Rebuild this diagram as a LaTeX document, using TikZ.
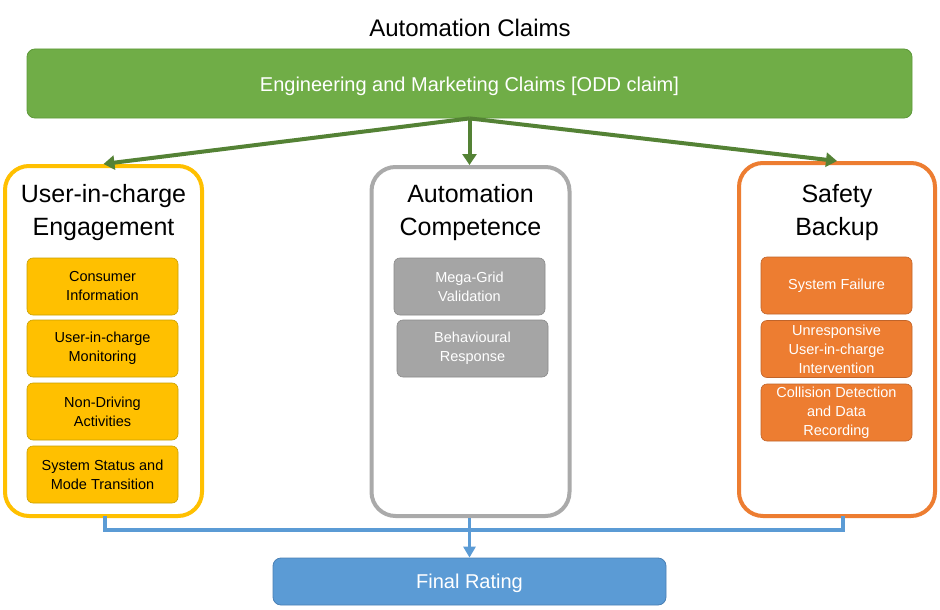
\documentclass[tikz,border=0pt]{standalone}
\usepackage{fontspec}
\setmainfont{Liberation Sans}
\usetikzlibrary{arrows.meta}
\definecolor{cgreen}{HTML}{70AD47}
\definecolor{cgreenb}{HTML}{5E9A3A}
\definecolor{carrow}{HTML}{548235}
\definecolor{cyellow}{HTML}{FFC000}
\definecolor{cyellowb}{HTML}{C9A000}
\definecolor{cgray}{HTML}{A5A5A5}
\definecolor{cgrayb}{HTML}{8A8A8A}
\definecolor{corange}{HTML}{ED7D31}
\definecolor{corangeb}{HTML}{C0642A}
\definecolor{cblue}{HTML}{5B9BD5}
\definecolor{cblueb}{HTML}{4A80B5}
\tikzset{
  outerbox/.style={draw, line width=4pt, rounded corners=24pt, fill=white, inner sep=0pt},
  subbox/.style={draw, line width=0.6pt, rounded corners=6pt, minimum width=151pt, minimum height=57pt, align=center, inner sep=0pt, font=\fontsize{14.5}{19}\selectfont},
  titletext/.style={align=center, font=\fontsize{25}{33}\selectfont, inner sep=0pt},
  bigbox/.style={draw, line width=0.8pt, rounded corners=8pt, align=center, inner sep=0pt, text=white, font=\fontsize{20}{24}\selectfont},
  greenarrow/.style={draw=carrow, line width=4pt, -{Triangle[width=14pt,length=11pt]}},
  blueline/.style={draw=cblue, line width=3.2pt},
  bluearrow/.style={draw=cblue, line width=3.2pt, -{Triangle[width=12pt,length=11pt]}}
}
\begin{document}
\begin{tikzpicture}[x=1pt,y=1pt]
\useasboundingbox (0,0) rectangle (940,-610);
\fill[white] (0,0) rectangle (940,-610);

\node[font=\fontsize{24}{28}\selectfont, inner sep=0pt] (title) at (470,-28) {Automation Claims};

\node[bigbox, fill=cgreen, draw=cgreenb, minimum width=885pt, minimum height=69pt] (claims) at (469.5,-83.5) {};
\node[text=white, font=\fontsize{20}{24}\selectfont, inner sep=0pt] (claimst) at (469.5,-86) {Engineering and Marketing Claims [ODD claim]};

% outer boxes
\node[outerbox, draw=cyellow, minimum width=197pt, minimum height=350pt] (uic) at (103.5,-341) {};
\node[outerbox, draw=cgray!95!white, minimum width=198pt, minimum height=349pt] (ac) at (470.5,-341.5) {};
\node[outerbox, draw=corange, minimum width=196pt, minimum height=353pt] (sb) at (837,-339.5) {};

% titles
\node[titletext] (uict) at (103.5,-213) {User-in-charge\\Engagement};
\node[titletext] (act) at (470.5,-213) {Automation\\Competence};
\node[titletext] (sbt) at (837,-213) {Safety\\Backup};

% left sub boxes
\node[subbox, fill=cyellow, draw=cyellowb] (ci) at (102.5,-286.5) {Consumer\\Information};
\node[subbox, fill=cyellow, draw=cyellowb] (um) at (102.5,-348.5) {User-in-charge\\Monitoring};
\node[subbox, fill=cyellow, draw=cyellowb] (nd) at (102.5,-411.5) {Non-Driving\\Activities};
\node[subbox, fill=cyellow, draw=cyellowb] (ss) at (102.5,-474.5) {System Status and\\Mode Transition};

% center sub boxes
\node[subbox, fill=cgray, draw=cgrayb, text=white] (mg) at (469.5,-286.5) {Mega-Grid\\Validation};
\node[subbox, fill=cgray, draw=cgrayb, text=white] (br) at (472.5,-348.5) {Behavioural\\Response};

% right sub boxes
\node[subbox, fill=corange, draw=corangeb, text=white] (sf) at (836.5,-285.5) {System Failure};
\node[subbox, fill=corange, draw=corangeb, text=white] (ui) at (836.5,-349) {Unresponsive\\User-in-charge\\Intervention};
\node[subbox, fill=corange, draw=corangeb, text=white] (cd) at (836.5,-412.5) {Collision Detection\\and Data\\Recording};

% final rating
\node[bigbox, fill=cblue, draw=cblueb, minimum width=393pt, minimum height=47pt] (final) at (469.5,-581.5) {};
\node[text=white, font=\fontsize{20}{24}\selectfont, inner sep=0pt] (finalt) at (469.5,-583) {Final Rating};

% green arrows
\draw[greenarrow] (claims.south) -- (uic.north);
\draw[greenarrow] (claims.south) -- (claims.south |- ac.north);
\draw[greenarrow] (claims.south) -- (sb.north);

% blue connectors
\coordinate (jl) at (105,-530);
\coordinate (jr) at (843,-530);
\draw[blueline, line cap=butt] (105,-516) -- (jl) -- (jr) -- (843,-516);
\draw[bluearrow] (final.north |- ac.south) -- (final.north);
\end{tikzpicture}
\end{document}
